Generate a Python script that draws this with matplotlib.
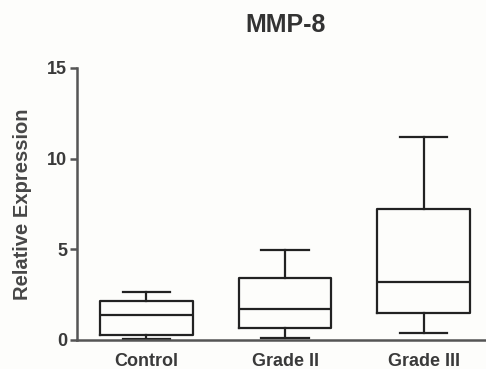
import matplotlib.pyplot as plt

groups = ['Control', 'Grade II', 'Grade III']
whisker_low = [0.05, 0.12, 0.4]
box_low = [0.28, 0.68, 1.48]
medians = [1.37, 1.72, 3.2]
box_high = [2.15, 3.4, 7.2]
whisker_high = [2.65, 4.95, 11.2]

plt.rcParams['font.family'] = ['Liberation Sans', 'DejaVu Sans']

fig = plt.figure(figsize=(4.86, 3.69), dpi=100, facecolor='#fdfdfb')
ax = fig.add_axes([77 / 486, 1 - 340 / 369, (493 - 77) / 486, 272 / 369])
ax.set_facecolor('#fdfdfb')

stats = []
for i, g in enumerate(groups):
    stats.append({'label': g, 'whislo': whisker_low[i], 'q1': box_low[i],
                  'med': medians[i], 'q3': box_high[i], 'whishi': whisker_high[i],
                  'fliers': []})

line = dict(color='#222222', linewidth=1.6)
ax.bxp(stats, positions=[1, 2, 3], widths=0.67, showfliers=False,
       boxprops=line, whiskerprops=line, capprops=line,
       medianprops=line, capwidths=0.34)

ax.set_xlim(0.5, 3.5)
ax.set_ylim(0, 15)
ax.set_yticks([0, 5, 10, 15])
for s in ['top', 'right']:
    ax.spines[s].set_visible(False)
for s in ['left', 'bottom']:
    ax.spines[s].set_color('#555555')
    ax.spines[s].set_linewidth(1.8)
ax.tick_params(axis='y', direction='out', length=5, width=1.8, color='#555555',
               labelsize=13, labelcolor='#3a3a3a', pad=2)
ax.tick_params(axis='x', length=0, labelsize=13, labelcolor='#3a3a3a', pad=9)
for t in ax.get_xticklabels() + ax.get_yticklabels():
    t.set_fontweight('bold')

ax.set_ylabel('Relative Expression', fontsize=14.5, fontweight='bold', color='#474747', labelpad=11)
fig.text(286 / 486, 1 - 25 / 369, 'MMP-8', ha='center', va='center',
         fontsize=18, fontweight='bold', color='#333333')

fig.savefig('out.png', dpi=100, facecolor=fig.get_facecolor())
